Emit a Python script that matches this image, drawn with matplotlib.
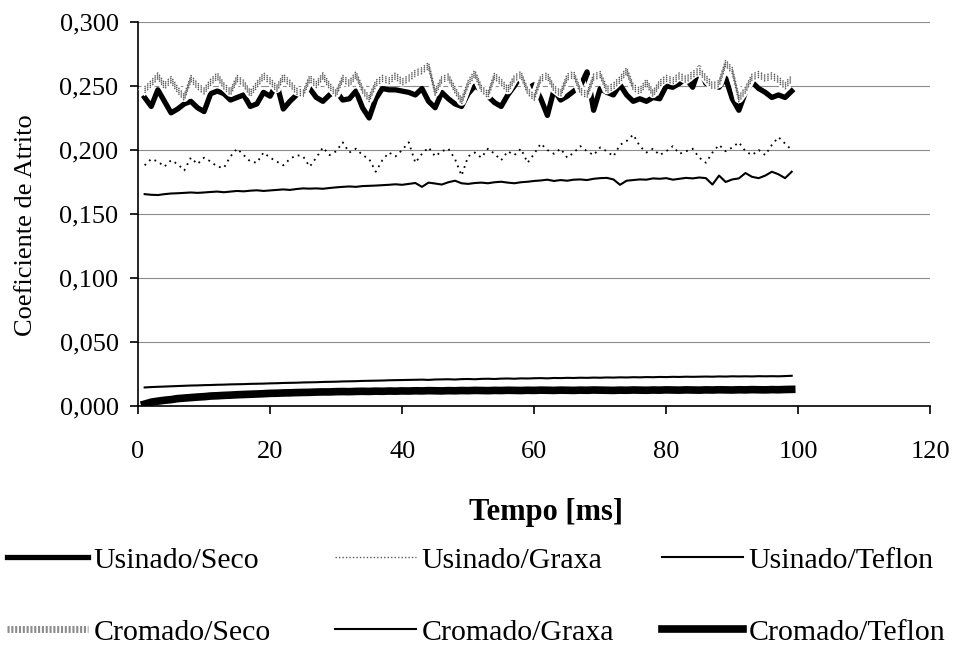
#!/usr/bin/python3

# Coeficiente de atrito x tempo para as seis condicoes de ensaio

import matplotlib
matplotlib.use("Agg")
import matplotlib.pyplot as plt
import matplotlib.transforms as mtransforms
from matplotlib.lines import Line2D
from matplotlib.ticker import FuncFormatter, MultipleLocator
import numpy as np

plt.rcParams['font.family'] = ['Liberation Serif', 'DejaVu Serif']

tempo = np.arange(1, 100)

usinado_seco = [
    .241, .234, .247, .238, .229, .232, .236, .238, .233, .230,
    .244, .246, .244, .239, .241, .243, .234, .236, .245, .242,
    .252, .232, .238, .243, .246, .248, .241, .238, .243, .246,
    .239, .240, .246, .233, .225, .240, .248, .247, .247, .246,
    .245, .243, .248, .238, .233, .245, .240, .236, .234, .244,
    .250, .247, .242, .237, .234, .243, .250, .258, .248, .251,
    .240, .227, .247, .239, .242, .246, .250, .261, .231, .248,
    .245, .243, .251, .243, .238, .240, .238, .241, .240, .250,
    .249, .252, .256, .249, .264, .252, .251, .249, .256, .240,
    .231, .245, .253, .248, .245, .241, .243, .241, .246]

usinado_graxa = [
    .188, .193, .191, .187, .192, .189, .184, .194, .189, .194,
    .191, .187, .186, .195, .201, .196, .191, .190, .198, .194,
    .191, .188, .193, .196, .195, .187, .194, .202, .196, .199,
    .206, .198, .201, .196, .193, .183, .192, .198, .195, .200,
    .206, .190, .197, .202, .195, .199, .201, .193, .180, .195,
    .198, .194, .201, .197, .192, .199, .196, .201, .190, .197,
    .205, .200, .197, .201, .194, .198, .203, .199, .196, .202,
    .199, .195, .204, .207, .212, .203, .198, .201, .196, .199,
    .203, .197, .199, .201, .194, .190, .198, .204, .199, .202,
    .206, .199, .196, .200, .196, .204, .210, .205, .200]

usinado_teflon = [
    .1655, .1650, .1648, .1655, .1660, .1662, .1665, .1668, .1665, .1668,
    .1672, .1675, .1670, .1675, .1680, .1677, .1682, .1685, .1680, .1684,
    .1688, .1692, .1688, .1695, .1700, .1698, .1700, .1697, .1703, .1708,
    .1712, .1715, .1712, .1718, .1720, .1722, .1725, .1728, .1732, .1728,
    .1735, .1742, .1712, .1745, .1738, .1730, .1748, .1760, .1740, .1735,
    .1742, .1745, .1740, .1748, .1752, .1745, .1740, .1748, .1752, .1758,
    .1762, .1768, .1758, .1765, .1760, .1768, .1770, .1765, .1775, .1780,
    .1782, .1770, .1728, .1760, .1765, .1770, .1768, .1778, .1775, .1780,
    .1768, .1775, .1782, .1778, .1785, .1780, .1730, .1800, .1750, .1770,
    .1778, .1820, .1790, .1780, .1800, .1830, .1810, .1780, .1830]

cromado_seco = [
    .247, .252, .258, .250, .255, .247, .241, .256, .250, .246,
    .253, .258, .250, .245, .256, .252, .244, .251, .258, .254,
    .248, .257, .252, .246, .244, .256, .251, .258, .250, .244,
    .256, .252, .259, .247, .240, .252, .256, .254, .258, .253,
    .256, .260, .262, .266, .245, .255, .257, .247, .238, .252,
    .260, .248, .243, .258, .253, .247, .256, .259, .246, .241,
    .256, .258, .248, .244, .257, .259, .246, .243, .257, .259,
    .247, .250, .255, .262, .249, .246, .253, .244, .252, .256,
    .254, .258, .255, .259, .262, .256, .250, .252, .268, .262,
    .240, .247, .257, .259, .256, .258, .255, .250, .256]

cromado_graxa = [
    .0145, .0148, .0150, .0152, .0154, .0156, .0158, .0160, .0161, .0163,
    .0164, .0166, .0167, .0169, .0170, .0171, .0173, .0174, .0175, .0177,
    .0178, .0180, .0181, .0182, .0184, .0185, .0186, .0188, .0189, .0190,
    .0192, .0193, .0194, .0196, .0197, .0198, .0199, .0201, .0202, .0203,
    .0204, .0205, .0206, .0204, .0207, .0208, .0209, .0207, .0210, .0211,
    .0209, .0212, .0213, .0211, .0214, .0215, .0213, .0216, .0215, .0217,
    .0218, .0216, .0219, .0218, .0220, .0219, .0221, .0220, .0222, .0221,
    .0223, .0222, .0224, .0223, .0225, .0224, .0226, .0225, .0227, .0226,
    .0228, .0227, .0229, .0228, .0229, .0230, .0229, .0231, .0230, .0232,
    .0231, .0232, .0231, .0233, .0232, .0233, .0232, .0234, .0236]

cromado_teflon = [
    .0015, .0030, .0038, .0045, .0050, .0058, .0062, .0066, .0070, .0073,
    .0078, .0080, .0083, .0085, .0088, .0090, .0092, .0094, .0096, .0099,
    .0100, .0102, .0103, .0105, .0106, .0107, .0109, .0110, .0110, .0112,
    .0113, .0112, .0114, .0115, .0114, .0116, .0115, .0117, .0116, .0118,
    .0117, .0119, .0118, .0120, .0119, .0118, .0120, .0119, .0121, .0120,
    .0122, .0121, .0120, .0122, .0121, .0123, .0122, .0121, .0123, .0122,
    .0124, .0123, .0122, .0124, .0123, .0122, .0124, .0123, .0125, .0124,
    .0123, .0122, .0124, .0123, .0125, .0124, .0123, .0125, .0124, .0126,
    .0125, .0124, .0126, .0125, .0124, .0126, .0125, .0127, .0126, .0125,
    .0127, .0126, .0128, .0127, .0126, .0128, .0127, .0129, .0130]


fig = plt.figure(figsize=(9.54, 6.46), dpi=100)
ax = fig.add_axes([0.1447, 0.3715, 0.8305, 0.5945])

ax.plot(tempo, usinado_seco, color='black', lw=3.8, zorder=3)
ax.plot(tempo, usinado_graxa, color='black', lw=1.3, ls=(0, (1, 2.5)), zorder=3)
ax.plot(tempo, usinado_teflon, color='black', lw=1.5, zorder=3)
ax.plot(tempo, cromado_graxa, color='black', lw=1.5, zorder=3)
ax.plot(tempo, cromado_teflon, color='black', lw=5.5, zorder=3)

# Cromado/Seco: faixa branca com textura pontilhada por cima
ax.plot(tempo, cromado_seco, color='white', lw=6.5, zorder=4)
for dy in (-2.1, -0.7, 0.7, 2.1):
    tr = mtransforms.offset_copy(ax.transData, fig=fig, x=0, y=dy, units='points')
    ax.plot(tempo, cromado_seco, color='0.35', lw=1.0, ls=(0, (1, 1.6)),
            transform=tr, zorder=5)

ax.set_xlim(0, 120)
ax.set_ylim(0, 0.3)
ax.xaxis.set_major_locator(MultipleLocator(20))
ax.yaxis.set_major_locator(MultipleLocator(0.05))
ax.yaxis.set_major_formatter(FuncFormatter(lambda v, p: ('%.3f' % v).replace('.', ',')))
ax.grid(axis='y', color='0.55', lw=0.8)
ax.set_axisbelow(True)
for s in ('top', 'right'):
    ax.spines[s].set_visible(False)
for s in ('left', 'bottom'):
    ax.spines[s].set_linewidth(1.2)
ax.tick_params(direction='out', length=6, width=1.2, labelsize=19)
ax.tick_params(axis='x', pad=19)
ax.tick_params(axis='y', pad=8)

ax.set_ylabel('Coeficiente de Atrito', fontsize=19)
ax.yaxis.set_label_coords(-0.128, 0.47)
ax.set_xlabel('Tempo [ms]', fontsize=22, fontweight='bold')
ax.xaxis.set_label_coords(0.515, -0.24)

# legenda em tres colunas de largura fixa
colunas = [
    (7, [(Line2D([], [], color='black', lw=3.8), 'Usinado/Seco'),
         (Line2D([], [], color='0.55', lw=5, ls=(0, (0.3, 0.25))), 'Cromado/Seco')]),
    (335, [(Line2D([], [], color='0.35', lw=1.0, ls=(0, (1, 1.5))), 'Usinado/Graxa'),
           (Line2D([], [], color='black', lw=1.5), 'Cromado/Graxa')]),
    (662, [(Line2D([], [], color='black', lw=1.5), 'Usinado/Teflon'),
           (Line2D([], [], color='black', lw=5.5), 'Cromado/Teflon')]),
]
for x0, itens in colunas:
    leg = fig.legend([h for h, _ in itens], [t for _, t in itens], ncol=1,
                     loc='upper left', bbox_to_anchor=(x0 / 954, 1 - 547 / 646),
                     frameon=False, fontsize=21.5, handlelength=2.7,
                     handletextpad=0.2, labelspacing=1.5, borderaxespad=0,
                     borderpad=0)

fig.savefig('out.png', dpi=100)
